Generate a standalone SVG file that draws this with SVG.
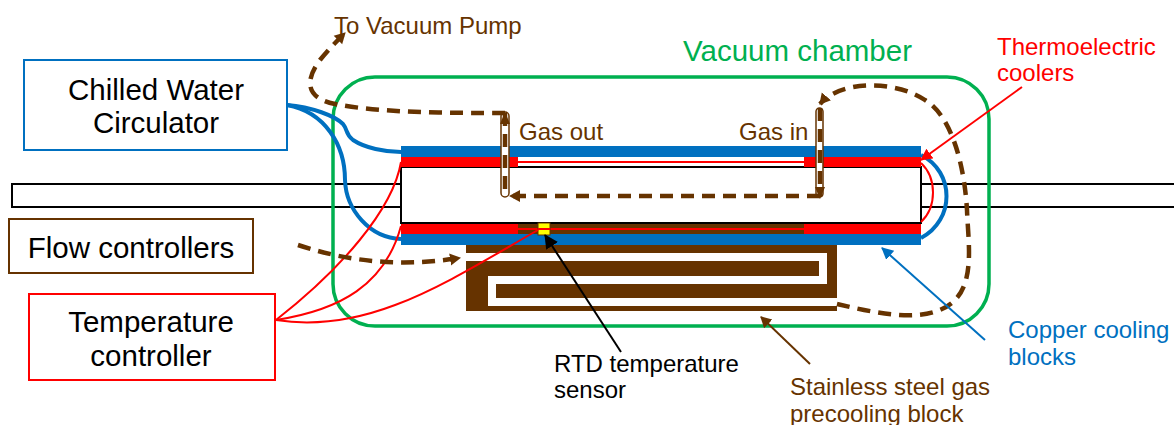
<svg xmlns="http://www.w3.org/2000/svg" width="1174" height="425" viewBox="0 0 1174 425">
<style>
text{font-family:"Liberation Sans",Arial,sans-serif;}
.n{fill:#fff;stroke-width:2}
.t26{font-size:29.500px;fill:#000}
.t22{font-size:24px}
.b{fill:#663300}
.w{fill:#fff}
.gas{fill:none;stroke:#663300;stroke-width:4.500;stroke-dasharray:13 8}
.blue{fill:none;stroke:#0070c0;stroke-width:4}
.red{fill:none;stroke:#f00;stroke-width:2}
.tube{fill:#fff;stroke:#663300;stroke-width:1.500}
</style>
<defs>
<marker id="ab" markerUnits="userSpaceOnUse" markerWidth="14" markerHeight="14" refX="10" refY="7" orient="auto"><path d="M0 1L11 7L0 13z" fill="#663300"/></marker>
<marker id="ar" markerUnits="userSpaceOnUse" markerWidth="14" markerHeight="14" refX="11" refY="6" orient="auto"><path d="M0 0L12 6L0 12z" fill="#f00"/></marker>
<marker id="ak" markerUnits="userSpaceOnUse" markerWidth="16" markerHeight="16" refX="13" refY="7" orient="auto"><path d="M0 0L14 7L0 14z" fill="#000"/></marker>
<marker id="al" markerUnits="userSpaceOnUse" markerWidth="14" markerHeight="14" refX="11" refY="6" orient="auto"><path d="M0 0L12 6L0 12z" fill="#0070c0"/></marker>
</defs>
<g id="pipe"><path d="M1174 184H12V207H1174" fill="none" stroke="#000" stroke-width="2"/></g>
<g id="vacuum-chamber"><rect x="333" y="77" width="656" height="249" rx="42" fill="none" stroke="#00b050" stroke-width="3.500"/><text x="683" y="61" font-size="29.500" fill="#00b050">Vacuum chamber</text></g>
<g id="precooling-block">
<rect class="b" x="466" y="245" width="371" height="53"/><rect class="b" x="466" y="298" width="22" height="13"/><rect class="b" x="488" y="306" width="349" height="5"/>
<rect class="w" x="466" y="253" width="361" height="8"/><rect class="w" x="819" y="253" width="8" height="31"/><rect class="w" x="488" y="276" width="339" height="8"/><rect class="w" x="488" y="276" width="8" height="30"/><rect class="w" x="488" y="298" width="349" height="8"/>
</g>
<g id="test-cell">
<rect x="401" y="167" width="520" height="56" fill="#fff" stroke="#000" stroke-width="2"/>
<rect x="401" y="146" width="520" height="11" fill="#0070c0"/>
<rect x="401" y="157" width="117" height="10" fill="#f00"/><rect x="804" y="157" width="117" height="10" fill="#f00"/>
<path d="M518 162H804" stroke="#f00" stroke-width="2"/>
<rect x="518" y="224" width="286" height="10" fill="#663300"/><path d="M518 229H804" stroke="#f00" stroke-width="2"/>
<rect x="401" y="224" width="117" height="10" fill="#f00"/><rect x="804" y="224" width="117" height="10" fill="#f00"/>
<rect x="401" y="234" width="520" height="11" fill="#0070c0"/>
<rect x="538" y="223" width="12" height="12" fill="#ff0" stroke="#663300" stroke-width="1"/><path d="M538 229H550" stroke="#f00" stroke-width="2"/>
</g>
<g id="gas-tubes"><rect class="tube" x="501" y="112" width="8" height="85" rx="4"/><rect class="tube" x="816" y="108" width="7" height="89" rx="3.500"/></g>
<g id="connectors">
<path class="blue" d="M287 105C312 107 335 116 343 124C348 130 345 134 353 140C365 148 385 152 401 152"/>
<path class="blue" d="M287 105C325 112 345 145 345 180C346 210 370 238 401 239"/>
<path class="blue" d="M921 155C955 172 955 220 921 238"/>
<path class="red" d="M921 163C937 178 937 207 921 222"/>
<path class="red" d="M276 320C340 270 393 210 401 162"/>
<path class="red" d="M276 320C340 310 385 285 401 226"/>
<path class="red" d="M276 320C370 335 450 280 538 230"/>
<path class="gas" d="M505 113C450 113 380 113 335 104C305 98 305 80 320 60C328 50 335 43 345 33" marker-end="url(#ab)"/>
<path class="gas" d="M505 113L505 197"/><path d="M505 112L500 124H510z" fill="#663300"/>
<path class="gas" d="M820 196H510" marker-end="url(#ab)"/>
<path class="gas" d="M820 108V197"/><path d="M820 199L815 187H825z" fill="#663300"/>
<path class="gas" d="M837 304C880 314 930 325 955 300C975 280 968 240 967 210C964 160 950 115 925 100C895 80 840 80 820 104" marker-end="url(#ab)"/>
<path class="gas" d="M298 245C350 262 400 267 460 258" marker-end="url(#ab)"/>
<path d="M1022 87L921 160" stroke="#f00" stroke-width="2" fill="none" marker-end="url(#ar)"/>
<path d="M985 340L882 248" stroke="#0070c0" stroke-width="2" fill="none" marker-end="url(#al)"/>
<path d="M810 364L761 317" stroke="#663300" stroke-width="2" fill="none" marker-end="url(#ab)"/>
<path d="M621 352L545 235" stroke="#000" stroke-width="2" fill="none" marker-end="url(#ak)"/>
</g>
<g id="chiller"><rect class="n" x="24" y="60" width="263" height="90" stroke="#0070c0"/><text class="t26" text-anchor="middle" x="156" y="100">Chilled Water</text><text class="t26" text-anchor="middle" x="156" y="133">Circulator</text></g>
<g id="flow-controllers"><rect class="n" x="9" y="219" width="244" height="54" stroke="#663300"/><text class="t26" text-anchor="middle" x="131" y="258">Flow controllers</text></g>
<g id="temperature-controller"><rect class="n" x="29" y="294" width="246" height="86" stroke="#f00"/><text class="t26" text-anchor="middle" x="151" y="332">Temperature</text><text class="t26" text-anchor="middle" x="151" y="366">controller</text></g>
<g id="labels">
<text class="t22" x="334" y="34" fill="#663300">To Vacuum Pump</text>
<text class="t22" x="519" y="140" fill="#663300">Gas out</text>
<text class="t22" x="739" y="140" fill="#663300">Gas in</text>
<text class="t22" x="997" y="55" fill="#f00">Thermoelectric</text>
<text class="t22" x="997" y="81" fill="#f00">coolers</text>
<text class="t22" x="1008" y="338" fill="#0070c0">Copper cooling</text>
<text class="t22" x="1008" y="365" fill="#0070c0">blocks</text>
<text class="t22" x="554" y="372" fill="#000">RTD temperature</text>
<text class="t22" x="554" y="398" fill="#000">sensor</text>
<text class="t22" x="790" y="395" fill="#663300">Stainless steel gas</text>
<text class="t22" x="790" y="422" fill="#663300">precooling block</text>
</g>
</svg>
